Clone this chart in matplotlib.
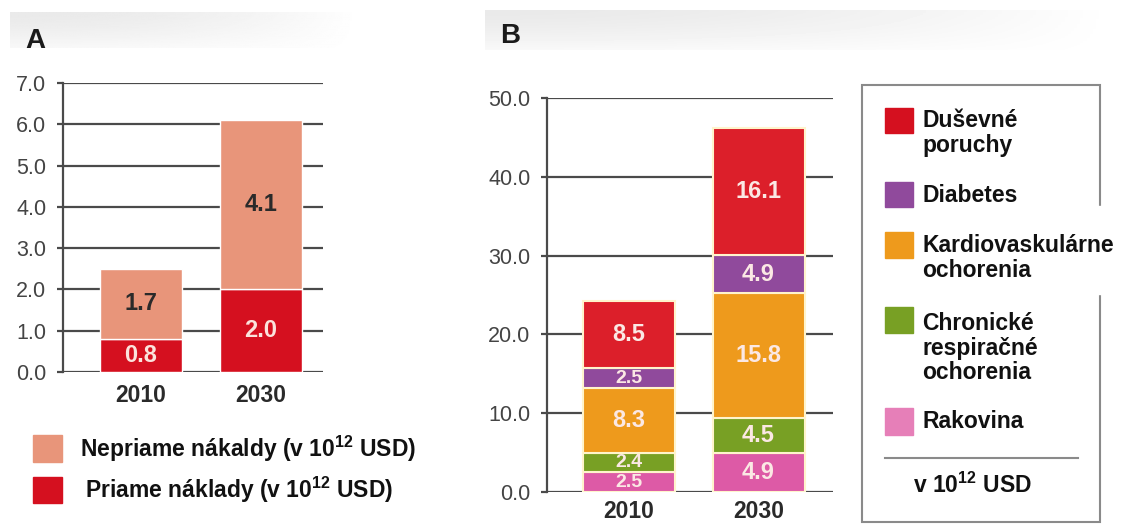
import numpy as np
import matplotlib

matplotlib.use("Agg")
import matplotlib.pyplot as plt
from matplotlib.patches import Rectangle
from matplotlib.lines import Line2D

plt.rcParams["font.family"] = ["Liberation Sans", "DejaVu Sans"]
plt.rcParams["mathtext.fontset"] = "custom"
plt.rcParams["mathtext.rm"] = "Liberation Sans"
plt.rcParams["mathtext.bf"] = "Liberation Sans:bold"

# --- data -------------------------------------------------------------
years = ["2010", "2030"]

# panel A (v 10^12 USD)
direct_costs = [0.8, 2.0]
indirect_costs = [1.7, 4.1]
a_ticks = [0.0, 1.0, 2.0, 3.0, 4.0, 5.0, 6.0, 7.0]
unit = r"$\mathbf{10^{12}}$"
a_legend = [f"Nepriame nákaldy (v {unit} USD)", f"Priame náklady (v {unit} USD)"]

# panel B, stacked bottom -> top
cancer = [2.5, 4.9]
respiratory = [2.4, 4.5]
cardio = [8.3, 15.8]
diabetes = [2.5, 4.9]
mental = [8.5, 16.1]
b_ticks = [0.0, 10.0, 20.0, 30.0, 40.0, 50.0]
b_legend = [
    "Duševné\nporuchy",
    "Diabetes",
    "Kardiovaskulárne\nochorenia",
    "Chronické\nrespiračné\nochorenia",
    "Rakovina",
]
b_unit = f"v {unit} USD"

# --- styling ----------------------------------------------------------
W, H = 1131, 530
C_SALMON = "#e8957a"
C_DRED = "#d5101f"
C_RED = "#dc1f2a"
C_PURPLE = "#904a9c"
C_ORANGE = "#ee9a1c"
C_GREEN = "#78a024"
C_PINK = "#dd5aa6"
GRID = "#4a4a4a"
TICK = "#444444"


def fx(px):
    return px / W


def fy(py):
    return 1 - py / H


fig = plt.figure(figsize=(W / 100, H / 100), dpi=100)


def header(x0, x1, y0, y1, letter, ly):
    hax = fig.add_axes([fx(x0), fy(y1), fx(x1 - x0), (y1 - y0) / H])
    gx = np.linspace(0, 1, 200)[None, :]
    gy = np.linspace(0, 1, 40)[:, None]
    shade = 1 - 0.085 * (1 - gx ** 2) * (1 - 0.7 * gy ** 1.5)
    hax.imshow(shade, cmap="gray", vmin=0, vmax=1, aspect="auto",
               extent=[0, 1, 0, 1], origin="upper")
    hax.set_axis_off()
    fig.text(fx(x0 + 15), fy(ly), letter, fontsize=20,
             fontweight="bold", color="#1a1a1a", va="center")


def style_axes(ax, ticks):
    ax.set_yticks(ticks)
    ax.set_yticklabels([f"{t:.1f}" for t in ticks])
    ax.yaxis.grid(True, color=GRID, linewidth=1.6)
    ax.set_axisbelow(True)
    for side in ("top", "right", "bottom"):
        ax.spines[side].set_visible(False)
    ax.spines["left"].set_color(GRID)
    ax.spines["left"].set_linewidth(1.6)
    ax.tick_params(axis="y", length=4, width=1.6, color=GRID, labelsize=15.5,
                   labelcolor=TICK, pad=8)
    ax.tick_params(axis="x", length=0, labelsize=16.5, labelcolor="#2a2a2a")
    for lab in ax.get_xticklabels():
        lab.set_fontweight("bold")


# --- panel A ----------------------------------------------------------
header(10, 360, 12, 48, "A", 41)
axA = fig.add_axes([fx(63), fy(372), fx(260), 289 / H])
xA = np.arange(len(years))
wA = 0.683
axA.bar(xA, direct_costs, wA, color=C_DRED, edgecolor="white", linewidth=1)
axA.bar(xA, indirect_costs, wA, bottom=direct_costs, color=C_SALMON,
        edgecolor="white", linewidth=1)
for i in xA:
    axA.text(i, direct_costs[i] / 2, f"{direct_costs[i]:.1f}", ha="center",
             va="center", color="#fbe3dc", fontsize=17, fontweight="bold")
    axA.text(i, direct_costs[i] + indirect_costs[i] / 2,
             f"{indirect_costs[i]:.1f}", ha="center", va="center",
             color="#2a2a2a", fontsize=17, fontweight="bold")
axA.set_xlim(-0.65, 1.517)
axA.set_ylim(0, 7)
axA.set_xticks(xA)
axA.set_xticklabels(years)
style_axes(axA, a_ticks)
axA.tick_params(axis="x", pad=9)

for (y0, y1), col, txt, tx in zip([(435, 462), (477, 503)],
                                  [C_SALMON, C_DRED], a_legend, [80, 85]):
    fig.add_artist(Rectangle((fx(33), fy(y1)), fx(29), (y1 - y0) / H,
                             transform=fig.transFigure, color=col))
    fig.text(fx(tx), fy((y0 + y1) / 2), txt, fontsize=16.5,
             fontweight="bold", color="#111111", va="center")

# --- panel B ----------------------------------------------------------
header(485, 1115, 10, 50, "B", 36)
axB = fig.add_axes([fx(547), fy(492), fx(286), 394 / H])
xB = np.arange(len(years))
wB = 0.71
series = [cancer, respiratory, cardio, diabetes, mental]
colors = [C_PINK, C_GREEN, C_ORANGE, C_PURPLE, C_RED]
bottom = np.zeros(len(years))
for vals, col in zip(series, colors):
    vals = np.array(vals)
    axB.bar(xB, vals, wB, bottom=bottom, color=col, edgecolor="#fff4cc",
            linewidth=1.5)
    for i in xB:
        small = vals[i] < 3 and i == 0
        axB.text(i, bottom[i] + vals[i] / 2, f"{vals[i]:.1f}", ha="center",
                 va="center", color="#fbe8e4",
                 fontsize=14 if small else 17, fontweight="bold")
    bottom += vals
axB.set_xlim(-0.633, 1.575)
axB.set_ylim(0, 50)
axB.set_xticks(xB)
axB.set_xticklabels(years)
style_axes(axB, b_ticks)
axB.tick_params(axis="x", pad=6)

# legend box for panel B
fig.add_artist(Rectangle((fx(862), fy(522)), fx(238), (522 - 85) / H,
                         transform=fig.transFigure, fill=False,
                         edgecolor="#8a8a8a", linewidth=1.5))
fig.add_artist(Rectangle((fx(1094), fy(294)), fx(14), (294 - 206) / H,
                         transform=fig.transFigure, color="white", zorder=3))

leg_rows = [(108, 133), (182, 207), (232, 258), (307, 333), (408, 435)]
leg_text_y = [133, 195, 258, 348, 422]
leg_colors = [C_DRED, C_PURPLE, C_ORANGE, C_GREEN, "#e67fb8"]
for (y0, y1), ty, col, txt in zip(leg_rows, leg_text_y, leg_colors, b_legend):
    fig.add_artist(Rectangle((fx(885), fy(y1)), fx(28), (y1 - y0) / H,
                             transform=fig.transFigure, color=col))
    fig.text(fx(922), fy(ty), txt, fontsize=16.5, fontweight="bold",
             color="#111111", va="center", linespacing=1.1, zorder=4)
fig.add_artist(Line2D([fx(885), fx(1078)], [fy(458), fy(458)],
                      transform=fig.transFigure, color="#8a8a8a",
                      linewidth=1.5))
fig.text(fx(972), fy(485), b_unit, fontsize=16.5, fontweight="bold",
         color="#111111", ha="center", va="center")

fig.savefig("out.png", dpi=100)
